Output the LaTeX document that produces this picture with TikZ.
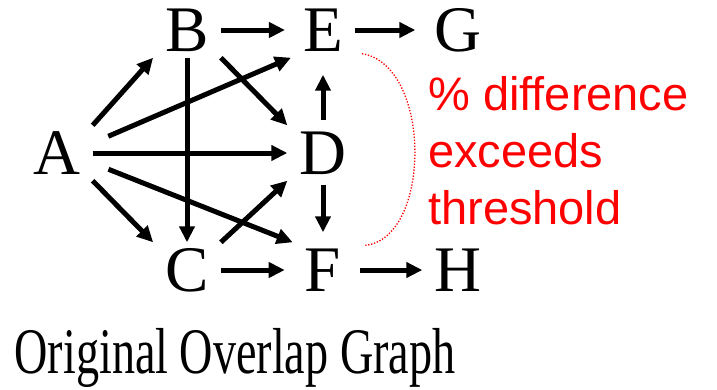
\documentclass[tikz,border=0pt]{standalone}
\usepackage{fontspec}
\setmainfont{Liberation Serif}
\newfontfamily\notefont{Liberation Sans}
\newfontfamily\titlefont[FakeStretch=0.71]{Liberation Serif}
\usepackage{tikz}
\usetikzlibrary{arrows.meta, positioning, calc}
\tikzset{
	vtx/.style={inner xsep=12pt, inner ysep=6pt, text height=43pt, text depth=0pt, font=\fontsize{65}{65}\selectfont},
	edge/.style={line width=5pt, -{Triangle[length=16pt,width=15pt]}},
	gap/.style={red, line width=1.3pt, dash pattern=on 1.3pt off 1.7pt}
}

\begin{document}
\begin{tikzpicture}[x=1pt, y=-1pt]
	\useasboundingbox (0,0) rectangle (717,389);
	\node[vtx] (A) at (57,153) {A};
	\node[vtx] (B) at (187,30) {B};
	\node[vtx] (E) at (323,30) {E};
	\node[vtx] (G) at (458,30) {G};
	\node[vtx] (D) at (323,153) {D};
	\node[vtx] (C) at (187,270) {C};
	\node[vtx] (F) at (323,270) {F};
	\node[vtx] (H) at (458,270) {H};
	\draw[edge] (A.north east) -- (B.south west);
	\draw[edge] (A.south east) -- (C.north west);
	\draw[edge, shorten <=17pt] ([yshift=10pt]A.east) -- (E.south west);
	\draw[edge] (A) -- (D);
	\draw[edge, shorten <=17pt] ([yshift=-10pt]A.east) -- (F.north west);
	\draw[edge, shorten >=6pt] (B) -- (E);
	\draw[edge] (B) -- (C);
	\draw[edge] (B.south east) -- (D.north west);
	\draw[edge] (C.north east) -- (D.south west);
	\draw[edge, shorten >=8pt] (C) -- (F);
	\draw[edge, shorten <=5pt, shorten >=17pt] (D) -- (E);
	\draw[edge, shorten <=4pt, shorten >=10pt] (D) -- (F);
	\draw[edge, shorten >=7pt] (E) -- (G);
	\draw[edge, shorten <=7pt] (F) -- (H);
	% threshold note
	\draw[gap] ([shift={(7pt,4pt)}]E.south east) .. controls (432,65) and (432,238) .. ([shift={(12pt,-3pt)}]F.north east);
	\node[anchor=north west, align=left, inner sep=0pt, text=red, font=\notefont\fontsize{47}{57}\selectfont] (note) at (428,76) {\% difference\\exceeds\\threshold};
	\node[anchor=base, inner sep=0pt, font=\fontsize{65}{65}\titlefont] (title) at (235,373) {Original Overlap Graph};
\end{tikzpicture}
\end{document}
